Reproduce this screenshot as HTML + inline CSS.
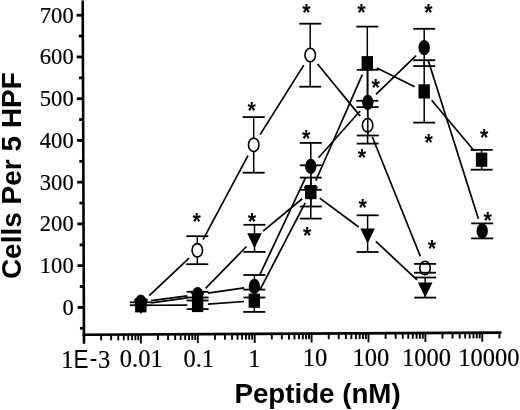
<!DOCTYPE html>
<html><head><meta charset="utf-8"><style>
html,body{margin:0;padding:0;background:#fff;}
svg{display:block;filter:grayscale(1);}
.tl{font-family:"Liberation Serif",serif;font-size:23.8px;fill:#000;stroke:#000;stroke-width:0.2px;}
.tx{font-family:"Liberation Serif",serif;font-size:25.8px;fill:#000;stroke:#000;stroke-width:0.2px;}
.sa{font-family:"Liberation Sans",sans-serif;font-size:25px;fill:#000;}
.ti{font-family:"Liberation Sans",sans-serif;font-weight:bold;font-size:28px;fill:#000;}
.as{font-family:"Liberation Sans",sans-serif;font-weight:bold;font-size:21.5px;fill:#000;}
</style></head><body>
<svg width="520" height="410" viewBox="0 0 520 410">
<line x1="82.70" y1="0.5" x2="84.00" y2="343.8" stroke="#000" stroke-width="2.6"/>
<line x1="82.50" y1="334.81" x2="501.5" y2="332.59" stroke="#000" stroke-width="2.6"/>
<line x1="79.94" y1="328.27" x2="83.94" y2="328.27" stroke="#000" stroke-width="2.8"/>
<line x1="77.66" y1="307.40" x2="83.86" y2="307.40" stroke="#000" stroke-width="2.8"/>
<line x1="79.79" y1="286.53" x2="83.79" y2="286.53" stroke="#000" stroke-width="2.8"/>
<line x1="77.51" y1="265.66" x2="83.71" y2="265.66" stroke="#000" stroke-width="2.8"/>
<line x1="79.63" y1="244.79" x2="83.63" y2="244.79" stroke="#000" stroke-width="2.8"/>
<line x1="77.35" y1="223.92" x2="83.55" y2="223.92" stroke="#000" stroke-width="2.8"/>
<line x1="79.47" y1="203.05" x2="83.47" y2="203.05" stroke="#000" stroke-width="2.8"/>
<line x1="77.19" y1="182.18" x2="83.39" y2="182.18" stroke="#000" stroke-width="2.8"/>
<line x1="79.31" y1="161.31" x2="83.31" y2="161.31" stroke="#000" stroke-width="2.8"/>
<line x1="77.03" y1="140.44" x2="83.23" y2="140.44" stroke="#000" stroke-width="2.8"/>
<line x1="79.15" y1="119.57" x2="83.15" y2="119.57" stroke="#000" stroke-width="2.8"/>
<line x1="76.87" y1="98.70" x2="83.07" y2="98.70" stroke="#000" stroke-width="2.8"/>
<line x1="78.99" y1="77.83" x2="82.99" y2="77.83" stroke="#000" stroke-width="2.8"/>
<line x1="76.71" y1="56.96" x2="82.91" y2="56.96" stroke="#000" stroke-width="2.8"/>
<line x1="78.83" y1="36.09" x2="82.83" y2="36.09" stroke="#000" stroke-width="2.8"/>
<line x1="76.55" y1="15.22" x2="82.75" y2="15.22" stroke="#000" stroke-width="2.8"/>
<line x1="101.13" y1="334.71" x2="101.13" y2="340.41" stroke="#000" stroke-width="1.9"/>
<line x1="111.15" y1="334.66" x2="111.15" y2="340.36" stroke="#000" stroke-width="1.9"/>
<line x1="118.26" y1="334.62" x2="118.26" y2="340.32" stroke="#000" stroke-width="1.9"/>
<line x1="123.77" y1="334.59" x2="123.77" y2="340.29" stroke="#000" stroke-width="1.9"/>
<line x1="128.28" y1="334.57" x2="128.28" y2="340.27" stroke="#000" stroke-width="1.9"/>
<line x1="132.09" y1="334.55" x2="132.09" y2="340.25" stroke="#000" stroke-width="1.9"/>
<line x1="135.39" y1="334.53" x2="135.39" y2="340.23" stroke="#000" stroke-width="1.9"/>
<line x1="138.30" y1="334.51" x2="138.30" y2="340.21" stroke="#000" stroke-width="1.9"/>
<line x1="140.90" y1="334.50" x2="140.90" y2="343.50" stroke="#000" stroke-width="1.9"/>
<line x1="158.03" y1="334.41" x2="158.03" y2="340.11" stroke="#000" stroke-width="1.9"/>
<line x1="168.05" y1="334.35" x2="168.05" y2="340.05" stroke="#000" stroke-width="1.9"/>
<line x1="175.16" y1="334.32" x2="175.16" y2="340.02" stroke="#000" stroke-width="1.9"/>
<line x1="180.67" y1="334.29" x2="180.67" y2="339.99" stroke="#000" stroke-width="1.9"/>
<line x1="185.18" y1="334.26" x2="185.18" y2="339.96" stroke="#000" stroke-width="1.9"/>
<line x1="188.99" y1="334.24" x2="188.99" y2="339.94" stroke="#000" stroke-width="1.9"/>
<line x1="192.29" y1="334.23" x2="192.29" y2="339.93" stroke="#000" stroke-width="1.9"/>
<line x1="195.20" y1="334.21" x2="195.20" y2="339.91" stroke="#000" stroke-width="1.9"/>
<line x1="197.80" y1="334.20" x2="197.80" y2="343.20" stroke="#000" stroke-width="1.9"/>
<line x1="214.93" y1="334.11" x2="214.93" y2="339.81" stroke="#000" stroke-width="1.9"/>
<line x1="224.95" y1="334.05" x2="224.95" y2="339.75" stroke="#000" stroke-width="1.9"/>
<line x1="232.06" y1="334.02" x2="232.06" y2="339.72" stroke="#000" stroke-width="1.9"/>
<line x1="237.57" y1="333.99" x2="237.57" y2="339.69" stroke="#000" stroke-width="1.9"/>
<line x1="242.08" y1="333.96" x2="242.08" y2="339.66" stroke="#000" stroke-width="1.9"/>
<line x1="245.89" y1="333.94" x2="245.89" y2="339.64" stroke="#000" stroke-width="1.9"/>
<line x1="249.19" y1="333.92" x2="249.19" y2="339.62" stroke="#000" stroke-width="1.9"/>
<line x1="252.10" y1="333.91" x2="252.10" y2="339.61" stroke="#000" stroke-width="1.9"/>
<line x1="254.70" y1="333.90" x2="254.70" y2="342.90" stroke="#000" stroke-width="1.9"/>
<line x1="271.83" y1="333.80" x2="271.83" y2="339.50" stroke="#000" stroke-width="1.9"/>
<line x1="281.85" y1="333.75" x2="281.85" y2="339.45" stroke="#000" stroke-width="1.9"/>
<line x1="288.96" y1="333.71" x2="288.96" y2="339.41" stroke="#000" stroke-width="1.9"/>
<line x1="294.47" y1="333.68" x2="294.47" y2="339.38" stroke="#000" stroke-width="1.9"/>
<line x1="298.98" y1="333.66" x2="298.98" y2="339.36" stroke="#000" stroke-width="1.9"/>
<line x1="302.79" y1="333.64" x2="302.79" y2="339.34" stroke="#000" stroke-width="1.9"/>
<line x1="306.09" y1="333.62" x2="306.09" y2="339.32" stroke="#000" stroke-width="1.9"/>
<line x1="309.00" y1="333.61" x2="309.00" y2="339.31" stroke="#000" stroke-width="1.9"/>
<line x1="311.60" y1="333.59" x2="311.60" y2="342.59" stroke="#000" stroke-width="1.9"/>
<line x1="328.73" y1="333.50" x2="328.73" y2="339.20" stroke="#000" stroke-width="1.9"/>
<line x1="338.75" y1="333.45" x2="338.75" y2="339.15" stroke="#000" stroke-width="1.9"/>
<line x1="345.86" y1="333.41" x2="345.86" y2="339.11" stroke="#000" stroke-width="1.9"/>
<line x1="351.37" y1="333.38" x2="351.37" y2="339.08" stroke="#000" stroke-width="1.9"/>
<line x1="355.88" y1="333.36" x2="355.88" y2="339.06" stroke="#000" stroke-width="1.9"/>
<line x1="359.69" y1="333.34" x2="359.69" y2="339.04" stroke="#000" stroke-width="1.9"/>
<line x1="362.99" y1="333.32" x2="362.99" y2="339.02" stroke="#000" stroke-width="1.9"/>
<line x1="365.90" y1="333.31" x2="365.90" y2="339.01" stroke="#000" stroke-width="1.9"/>
<line x1="368.50" y1="333.29" x2="368.50" y2="342.29" stroke="#000" stroke-width="1.9"/>
<line x1="385.63" y1="333.20" x2="385.63" y2="338.90" stroke="#000" stroke-width="1.9"/>
<line x1="395.65" y1="333.15" x2="395.65" y2="338.85" stroke="#000" stroke-width="1.9"/>
<line x1="402.76" y1="333.11" x2="402.76" y2="338.81" stroke="#000" stroke-width="1.9"/>
<line x1="408.27" y1="333.08" x2="408.27" y2="338.78" stroke="#000" stroke-width="1.9"/>
<line x1="412.78" y1="333.06" x2="412.78" y2="338.76" stroke="#000" stroke-width="1.9"/>
<line x1="416.59" y1="333.04" x2="416.59" y2="338.74" stroke="#000" stroke-width="1.9"/>
<line x1="419.89" y1="333.02" x2="419.89" y2="338.72" stroke="#000" stroke-width="1.9"/>
<line x1="422.80" y1="333.00" x2="422.80" y2="338.70" stroke="#000" stroke-width="1.9"/>
<line x1="425.40" y1="332.99" x2="425.40" y2="341.99" stroke="#000" stroke-width="1.9"/>
<line x1="442.53" y1="332.90" x2="442.53" y2="338.60" stroke="#000" stroke-width="1.9"/>
<line x1="452.55" y1="332.85" x2="452.55" y2="338.55" stroke="#000" stroke-width="1.9"/>
<line x1="459.66" y1="332.81" x2="459.66" y2="338.51" stroke="#000" stroke-width="1.9"/>
<line x1="465.17" y1="332.78" x2="465.17" y2="338.48" stroke="#000" stroke-width="1.9"/>
<line x1="469.68" y1="332.76" x2="469.68" y2="338.46" stroke="#000" stroke-width="1.9"/>
<line x1="473.49" y1="332.74" x2="473.49" y2="338.44" stroke="#000" stroke-width="1.9"/>
<line x1="476.79" y1="332.72" x2="476.79" y2="338.42" stroke="#000" stroke-width="1.9"/>
<line x1="479.70" y1="332.70" x2="479.70" y2="338.40" stroke="#000" stroke-width="1.9"/>
<line x1="482.30" y1="332.69" x2="482.30" y2="341.69" stroke="#000" stroke-width="1.9"/>
<line x1="499.43" y1="332.60" x2="499.43" y2="338.30" stroke="#000" stroke-width="1.9"/>
<text transform="translate(73.7,314.90) scale(0.95,1)" text-anchor="end" class="tl">0</text>
<text transform="translate(73.7,273.16) scale(0.95,1)" text-anchor="end" class="tl">100</text>
<text transform="translate(73.7,231.42) scale(0.95,1)" text-anchor="end" class="tl">200</text>
<text transform="translate(73.7,189.68) scale(0.95,1)" text-anchor="end" class="tl">300</text>
<text transform="translate(73.7,147.94) scale(0.95,1)" text-anchor="end" class="tl">400</text>
<text transform="translate(73.7,106.20) scale(0.95,1)" text-anchor="end" class="tl">500</text>
<text transform="translate(73.7,64.46) scale(0.95,1)" text-anchor="end" class="tl">600</text>
<text transform="translate(73.7,22.72) scale(0.95,1)" text-anchor="end" class="tl">700</text>
<text transform="translate(141.2,366.6) scale(0.95,1)" text-anchor="middle" class="tx">0.01</text>
<text transform="translate(198.75,366.5) scale(0.95,1)" text-anchor="middle" class="tx">0.1</text>
<text transform="translate(254.4,366.5) scale(0.95,1)" text-anchor="middle" class="tx">1</text>
<text transform="translate(315.0,366.3) scale(0.95,1)" text-anchor="middle" class="tx">10</text>
<text transform="translate(370.8,366.2) scale(0.95,1)" text-anchor="middle" class="tx">100</text>
<text transform="translate(426.5,366.2) scale(0.95,1)" text-anchor="middle" class="tx">1000</text>
<text transform="translate(488.8,366.4) scale(0.95,1)" text-anchor="middle" class="tx">10000</text>
<text transform="translate(61.34,367.6) scale(0.95,1)" class="tx">1</text>
<text transform="translate(73.45,367.6) scale(0.9,1)" class="sa">E</text>
<text transform="translate(89.50,367.0) scale(0.95,1)" class="sa">-</text>
<text transform="translate(98.12,367.8) scale(0.95,1)" class="tx">3</text>
<text x="234.5" y="403" class="ti" style="font-size:27.7px">Peptide (nM)</text>
<text transform="translate(21.3,279.1) rotate(-90)" x="0" y="0" class="ti">Cells Per 5 HPF</text>
<line x1="197.3" y1="236.2" x2="197.3" y2="264.2" stroke="#000" stroke-width="1.5"/>
<line x1="253.7" y1="117.1" x2="253.7" y2="172.7" stroke="#000" stroke-width="1.5"/>
<line x1="310.2" y1="23.7" x2="310.2" y2="86.7" stroke="#000" stroke-width="1.5"/>
<line x1="367.6" y1="107.1" x2="367.6" y2="143.6" stroke="#000" stroke-width="1.5"/>
<line x1="425.0" y1="263.9" x2="425.0" y2="272.7" stroke="#000" stroke-width="1.5"/>
<line x1="149.24" y1="295.71" x2="189.06" y2="258.09" stroke="#000" stroke-width="1.7"/><line x1="203.05" y1="239.54" x2="247.95" y2="155.56" stroke="#000" stroke-width="1.7"/><line x1="260.10" y1="134.63" x2="303.80" y2="65.17" stroke="#000" stroke-width="1.7"/><line x1="317.59" y1="64.04" x2="360.21" y2="116.16" stroke="#000" stroke-width="1.7"/><line x1="372.26" y1="136.78" x2="420.34" y2="256.32" stroke="#000" stroke-width="1.7"/>
<ellipse cx="141" cy="303.5" rx="5.25" ry="6.7" fill="#fff" stroke="#000" stroke-width="1.6"/>
<ellipse cx="197.3" cy="250.3" rx="5.25" ry="6.7" fill="#fff" stroke="#000" stroke-width="1.6"/>
<ellipse cx="253.7" cy="144.8" rx="5.25" ry="6.7" fill="#fff" stroke="#000" stroke-width="1.6"/>
<ellipse cx="310.2" cy="55.0" rx="5.25" ry="6.7" fill="#fff" stroke="#000" stroke-width="1.6"/>
<ellipse cx="367.6" cy="125.2" rx="5.25" ry="6.7" fill="#fff" stroke="#000" stroke-width="1.6"/>
<ellipse cx="425.0" cy="267.9" rx="5.25" ry="6.7" fill="#fff" stroke="#000" stroke-width="1.6"/>
<line x1="186.3" y1="236.2" x2="208.3" y2="236.2" stroke="#000" stroke-width="1.8"/><line x1="186.3" y1="264.2" x2="208.3" y2="264.2" stroke="#000" stroke-width="1.8"/>
<line x1="242.7" y1="117.1" x2="264.7" y2="117.1" stroke="#000" stroke-width="1.8"/><line x1="242.7" y1="172.7" x2="264.7" y2="172.7" stroke="#000" stroke-width="1.8"/>
<line x1="299.2" y1="23.7" x2="321.2" y2="23.7" stroke="#000" stroke-width="1.8"/><line x1="299.2" y1="86.7" x2="321.2" y2="86.7" stroke="#000" stroke-width="1.8"/>
<line x1="356.6" y1="107.1" x2="378.6" y2="107.1" stroke="#000" stroke-width="1.8"/><line x1="356.6" y1="143.6" x2="378.6" y2="143.6" stroke="#000" stroke-width="1.8"/>
<line x1="414.0" y1="263.9" x2="436.0" y2="263.9" stroke="#000" stroke-width="1.8"/><line x1="414.0" y1="272.7" x2="436.0" y2="272.7" stroke="#000" stroke-width="1.8"/>
<line x1="254.5" y1="224.8" x2="254.5" y2="251.9" stroke="#000" stroke-width="1.5"/>
<line x1="310.8" y1="177.6" x2="310.8" y2="206.5" stroke="#000" stroke-width="1.5"/>
<line x1="367.6" y1="215.3" x2="367.6" y2="252" stroke="#000" stroke-width="1.5"/>
<line x1="425.2" y1="277.5" x2="425.2" y2="297.6" stroke="#000" stroke-width="1.5"/>
<line x1="151.24" y1="302.81" x2="187.36" y2="297.89" stroke="#000" stroke-width="1.7"/><line x1="205.60" y1="288.32" x2="246.50" y2="246.48" stroke="#000" stroke-width="1.7"/><line x1="263.10" y1="231.16" x2="302.20" y2="198.74" stroke="#000" stroke-width="1.7"/><line x1="319.68" y1="198.17" x2="358.72" y2="227.03" stroke="#000" stroke-width="1.7"/><line x1="375.86" y1="241.35" x2="416.94" y2="279.85" stroke="#000" stroke-width="1.7"/>
<polygon points="133.7,299.2 148.3,299.2 141,314.2" fill="#000"/>
<polygon points="190.29999999999998,291.5 204.9,291.5 197.6,306.5" fill="#000"/>
<polygon points="247.2,233.3 261.8,233.3 254.5,248.3" fill="#000"/>
<polygon points="303.5,186.6 318.1,186.6 310.8,201.6" fill="#000"/>
<polygon points="360.3,228.6 374.90000000000003,228.6 367.6,243.6" fill="#000"/>
<polygon points="417.9,282.6 432.5,282.6 425.2,297.6" fill="#000"/>
<line x1="243.5" y1="224.8" x2="265.5" y2="224.8" stroke="#000" stroke-width="1.8"/><line x1="243.5" y1="251.9" x2="265.5" y2="251.9" stroke="#000" stroke-width="1.8"/>
<line x1="299.8" y1="177.6" x2="321.8" y2="177.6" stroke="#000" stroke-width="1.8"/><line x1="299.8" y1="206.5" x2="321.8" y2="206.5" stroke="#000" stroke-width="1.8"/>
<line x1="356.6" y1="215.3" x2="378.6" y2="215.3" stroke="#000" stroke-width="1.8"/><line x1="356.6" y1="252" x2="378.6" y2="252" stroke="#000" stroke-width="1.8"/>
<line x1="414.2" y1="277.5" x2="436.2" y2="277.5" stroke="#000" stroke-width="1.8"/><line x1="414.2" y1="297.6" x2="436.2" y2="297.6" stroke="#000" stroke-width="1.8"/>
<line x1="140.8" y1="302.3" x2="140.8" y2="305.2" stroke="#000" stroke-width="1.5"/>
<line x1="197.6" y1="300.5" x2="197.6" y2="309.1" stroke="#000" stroke-width="1.5"/>
<line x1="254.3" y1="289.6" x2="254.3" y2="311.9" stroke="#000" stroke-width="1.5"/>
<line x1="310.8" y1="165.3" x2="310.8" y2="218.6" stroke="#000" stroke-width="1.5"/>
<line x1="367.3" y1="26.6" x2="367.3" y2="100.8" stroke="#000" stroke-width="1.5"/>
<line x1="424.2" y1="60.2" x2="424.2" y2="122.6" stroke="#000" stroke-width="1.5"/>
<line x1="481.6" y1="149.9" x2="481.6" y2="169.7" stroke="#000" stroke-width="1.5"/>
<line x1="151.10" y1="305.25" x2="187.30" y2="305.05" stroke="#000" stroke-width="1.7"/><line x1="207.88" y1="304.22" x2="244.02" y2="301.48" stroke="#000" stroke-width="1.7"/><line x1="259.95" y1="289.85" x2="305.15" y2="202.95" stroke="#000" stroke-width="1.7"/><line x1="315.78" y1="180.74" x2="362.32" y2="74.56" stroke="#000" stroke-width="1.7"/><line x1="376.89" y1="67.95" x2="414.61" y2="86.65" stroke="#000" stroke-width="1.7"/><line x1="431.69" y1="100.31" x2="474.11" y2="150.79" stroke="#000" stroke-width="1.7"/>
<rect x="135.10000000000002" y="298.2" width="11.4" height="14.2" fill="#000"/>
<rect x="191.9" y="297.9" width="11.4" height="14.2" fill="#000"/>
<rect x="248.60000000000002" y="293.59999999999997" width="11.4" height="14.2" fill="#000"/>
<rect x="305.1" y="185.0" width="11.4" height="14.2" fill="#000"/>
<rect x="361.6" y="56.1" width="11.4" height="14.2" fill="#000"/>
<rect x="418.5" y="84.30000000000001" width="11.4" height="14.2" fill="#000"/>
<rect x="475.90000000000003" y="152.6" width="11.4" height="14.2" fill="#000"/>
<line x1="129.8" y1="302.3" x2="151.8" y2="302.3" stroke="#000" stroke-width="1.8"/><line x1="129.8" y1="305.2" x2="151.8" y2="305.2" stroke="#000" stroke-width="1.8"/>
<line x1="186.6" y1="300.5" x2="208.6" y2="300.5" stroke="#000" stroke-width="1.8"/><line x1="186.6" y1="309.1" x2="208.6" y2="309.1" stroke="#000" stroke-width="1.8"/>
<line x1="243.3" y1="289.6" x2="265.3" y2="289.6" stroke="#000" stroke-width="1.8"/><line x1="243.3" y1="311.9" x2="265.3" y2="311.9" stroke="#000" stroke-width="1.8"/>
<line x1="299.8" y1="165.3" x2="321.8" y2="165.3" stroke="#000" stroke-width="1.8"/><line x1="299.8" y1="218.6" x2="321.8" y2="218.6" stroke="#000" stroke-width="1.8"/>
<line x1="356.3" y1="26.6" x2="378.3" y2="26.6" stroke="#000" stroke-width="1.8"/><line x1="356.3" y1="100.8" x2="378.3" y2="100.8" stroke="#000" stroke-width="1.8"/>
<line x1="413.2" y1="60.2" x2="435.2" y2="60.2" stroke="#000" stroke-width="1.8"/><line x1="413.2" y1="122.6" x2="435.2" y2="122.6" stroke="#000" stroke-width="1.8"/>
<line x1="470.6" y1="149.9" x2="492.6" y2="149.9" stroke="#000" stroke-width="1.8"/><line x1="470.6" y1="169.7" x2="492.6" y2="169.7" stroke="#000" stroke-width="1.8"/>
<line x1="197.6" y1="291.8" x2="197.6" y2="297.5" stroke="#000" stroke-width="1.5"/>
<line x1="254.4" y1="275" x2="254.4" y2="297.5" stroke="#000" stroke-width="1.5"/>
<line x1="310.8" y1="142.9" x2="310.8" y2="189.8" stroke="#000" stroke-width="1.5"/>
<line x1="367.8" y1="69.8" x2="367.8" y2="135.5" stroke="#000" stroke-width="1.5"/>
<line x1="424.2" y1="28.8" x2="424.2" y2="66.1" stroke="#000" stroke-width="1.5"/>
<line x1="482.2" y1="223.4" x2="482.2" y2="238.4" stroke="#000" stroke-width="1.5"/>
<line x1="151.04" y1="300.65" x2="187.36" y2="295.85" stroke="#000" stroke-width="1.7"/><line x1="207.83" y1="293.04" x2="244.17" y2="287.86" stroke="#000" stroke-width="1.7"/><line x1="259.65" y1="275.23" x2="305.55" y2="177.57" stroke="#000" stroke-width="1.7"/><line x1="318.48" y1="157.76" x2="360.12" y2="110.94" stroke="#000" stroke-width="1.7"/><line x1="375.97" y1="94.39" x2="416.03" y2="55.61" stroke="#000" stroke-width="1.7"/><line x1="428.02" y1="59.75" x2="478.38" y2="218.85" stroke="#000" stroke-width="1.7"/>
<ellipse cx="140.8" cy="302" rx="5.7" ry="7.6" fill="#000"/>
<ellipse cx="197.6" cy="294.5" rx="5.7" ry="7.6" fill="#000"/>
<ellipse cx="254.4" cy="286.4" rx="5.7" ry="7.6" fill="#000"/>
<ellipse cx="310.8" cy="166.4" rx="5.7" ry="7.6" fill="#000"/>
<ellipse cx="367.8" cy="102.3" rx="5.7" ry="7.6" fill="#000"/>
<ellipse cx="424.2" cy="47.7" rx="5.7" ry="7.6" fill="#000"/>
<ellipse cx="482.2" cy="230.9" rx="5.7" ry="7.6" fill="#000"/>
<line x1="186.6" y1="291.8" x2="208.6" y2="291.8" stroke="#000" stroke-width="1.8"/><line x1="186.6" y1="297.5" x2="208.6" y2="297.5" stroke="#000" stroke-width="1.8"/>
<line x1="243.4" y1="275" x2="265.4" y2="275" stroke="#000" stroke-width="1.8"/><line x1="243.4" y1="297.5" x2="265.4" y2="297.5" stroke="#000" stroke-width="1.8"/>
<line x1="299.8" y1="142.9" x2="321.8" y2="142.9" stroke="#000" stroke-width="1.8"/><line x1="299.8" y1="189.8" x2="321.8" y2="189.8" stroke="#000" stroke-width="1.8"/>
<line x1="356.8" y1="69.8" x2="378.8" y2="69.8" stroke="#000" stroke-width="1.8"/><line x1="356.8" y1="135.5" x2="378.8" y2="135.5" stroke="#000" stroke-width="1.8"/>
<line x1="413.2" y1="28.8" x2="435.2" y2="28.8" stroke="#000" stroke-width="1.8"/><line x1="413.2" y1="66.1" x2="435.2" y2="66.1" stroke="#000" stroke-width="1.8"/>
<line x1="471.2" y1="223.4" x2="493.2" y2="223.4" stroke="#000" stroke-width="1.8"/><line x1="471.2" y1="238.4" x2="493.2" y2="238.4" stroke="#000" stroke-width="1.8"/>
<text transform="translate(306.35,21.10) scale(1,1.07)" text-anchor="middle" class="as">*</text>
<text transform="translate(361.4,20.70) scale(1,1.07)" text-anchor="middle" class="as">*</text>
<text transform="translate(428.4,20.70) scale(1,1.07)" text-anchor="middle" class="as">*</text>
<text transform="translate(375.7,96.30) scale(1,1.07)" text-anchor="middle" class="as">*</text>
<text transform="translate(251.6,118.80) scale(1,1.07)" text-anchor="middle" class="as">*</text>
<text transform="translate(428.6,150.80) scale(1,1.07)" text-anchor="middle" class="as">*</text>
<text transform="translate(484.3,146.10) scale(1,1.07)" text-anchor="middle" class="as">*</text>
<text transform="translate(306.3,147.00) scale(1,1.07)" text-anchor="middle" class="as">*</text>
<text transform="translate(362,165.80) scale(1,1.07)" text-anchor="middle" class="as">*</text>
<text transform="translate(196.6,230.40) scale(1,1.07)" text-anchor="middle" class="as">*</text>
<text transform="translate(252,229.90) scale(1,1.07)" text-anchor="middle" class="as">*</text>
<text transform="translate(307.3,243.70) scale(1,1.07)" text-anchor="middle" class="as">*</text>
<text transform="translate(362.6,215.80) scale(1,1.07)" text-anchor="middle" class="as">*</text>
<text transform="translate(487.6,229.20) scale(1,1.07)" text-anchor="middle" class="as">*</text>
<text transform="translate(431.9,257.00) scale(1,1.07)" text-anchor="middle" class="as">*</text>
</svg>
</body></html>
